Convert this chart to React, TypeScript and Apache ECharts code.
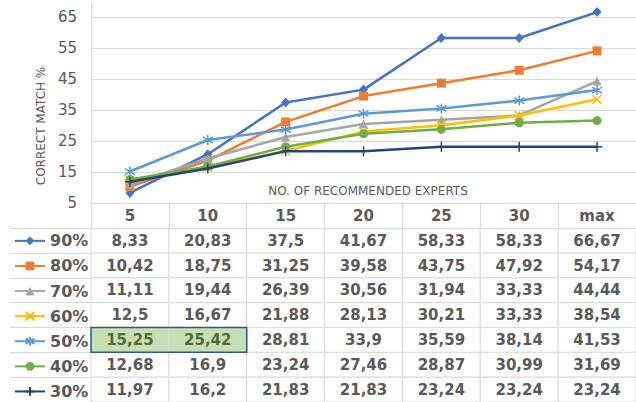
import React, { useEffect, useRef } from 'react';
import * as echarts from 'echarts';

const categories = ['5', '10', '15', '20', '25', '30', 'max'];
const seriesNames = ['90%', '80%', '70%', '60%', '50%', '40%', '30%'];
const s90 = [8.33, 20.83, 37.5, 41.67, 58.33, 58.33, 66.67];
const s80 = [10.42, 18.75, 31.25, 39.58, 43.75, 47.92, 54.17];
const s70 = [11.11, 19.44, 26.39, 30.56, 31.94, 33.33, 44.44];
const s60 = [12.5, 16.67, 21.88, 28.13, 30.21, 33.33, 38.54];
const s50 = [15.25, 25.42, 28.81, 33.9, 35.59, 38.14, 41.53];
const s40 = [12.68, 16.9, 23.24, 27.46, 28.87, 30.99, 31.69];
const s30 = [11.97, 16.2, 21.83, 21.83, 23.24, 23.24, 23.24];
const seriesValues = [s90, s80, s70, s60, s50, s40, s30];
const yMin = 5;
const yMax = 69.5;
const yInterval = 10;
const yTitle = 'CORRECT MATCH %';
const xTitle = 'NO. OF RECOMMENDED EXPERTS';
const highlightRow = '50%';
const highlightCols = ['5', '10'];

const colors = ['#4472C4', '#ED7D31', '#A5A5A5', '#FFC000', '#5B9BD5', '#70AD47', '#264478'];
const symbols = [
  'diamond',
  'rect',
  'triangle',
  'path://M0,0L10,10M10,0L0,10',
  'path://M5,0L5,10M0.8,2L9.2,8M9.2,2L0.8,8',
  'circle',
  'path://M5,0L5,10M0,5L10,5',
];
const symbolSizes: any[] = [[9, 10], 9, 9, 9, 10, 9, 10];
const stroked = [false, false, false, true, true, false, true];

const FONT = '"DejaVu Sans", Verdana, sans-serif';
const TXT = '#595959';
const GRID = '#D9D9D9';

const PX_PER_UNIT = 3.1;
const PLOT_LEFT = 91;
const PLOT_BOTTOM = 203.3;
const PLOT_H = (yMax - yMin) * PX_PER_UNIT;
const PLOT_TOP = PLOT_BOTTOM - PLOT_H;
const HEADER_H = 25;
const ROW_H = 25.1;
const TABLE_LEFT = 10;
const TABLE_TOP = PLOT_BOTTOM + HEADER_H;
const LEGEND_LINE = 16;

const fmt = (v: number) => String(v).replace('.', ',');

export default function App() {
  const ref = useRef<HTMLDivElement>(null);
  useEffect(() => {
    if (!ref.current) return;
    const chart = echarts.init(ref.current, undefined, { renderer: 'svg' });

    const cellData: number[][] = [];
    seriesValues.forEach((vals, r) => vals.forEach((v, c) => cellData.push([c, r, v])));
    const hlRowIdx = seriesNames.indexOf(highlightRow);
    const hlColIdx = highlightCols.map((c) => categories.indexOf(c));

    const nTicks = Math.floor((yMax - yMin) / yInterval) + 1 + ((yMax - yMin) % yInterval ? 1 : 0);
    const splitColors = Array.from({ length: nTicks }, (_, i) =>
      i === nTicks - 1 && (yMax - yMin) % yInterval ? 'rgba(0,0,0,0)' : GRID
    );

    const lineSeries = seriesNames.map((name, i) => ({
      name,
      type: 'line',
      xAxisIndex: 0,
      yAxisIndex: 0,
      data: seriesValues[i],
      symbol: symbols[i],
      symbolSize: symbolSizes[i],
      color: colors[i],
      lineStyle: { color: colors[i], width: 2.5 },
      itemStyle: stroked[i]
        ? { color: colors[i], borderColor: colors[i], borderWidth: 1.5 }
        : { color: colors[i], borderWidth: 0 },
      showAllSymbol: true,
      z: 2 + i,
    }));

    const legends = seriesNames.map((name, i) => ({
      data: [name],
      orient: 'vertical',
      left: 14,
      top: TABLE_TOP + ROW_H * i + ROW_H / 2 - LEGEND_LINE / 2,
      padding: 0,
      itemWidth: 30,
      itemHeight: 11,
      selectedMode: false,
      textStyle: { color: TXT, fontSize: 16, fontWeight: 'bold', fontFamily: FONT, lineHeight: LEGEND_LINE },
    }));

    const option: any = {
      animation: false,
      grid: [
        { left: PLOT_LEFT, right: 0, top: PLOT_TOP, height: PLOT_H },
        { left: PLOT_LEFT, right: 0, top: TABLE_TOP, height: ROW_H * seriesNames.length },
      ],
      xAxis: [
        {
          type: 'category',
          gridIndex: 0,
          data: categories,
          boundaryGap: true,
          axisLine: { show: true, lineStyle: { color: GRID, width: 1 } },
          axisTick: { show: true, length: HEADER_H, lineStyle: { color: GRID, width: 1 } },
          axisLabel: { color: TXT, fontSize: 15, fontWeight: 'bold', fontFamily: FONT, margin: 5 },
          splitLine: { show: false },
        },
        {
          type: 'category',
          gridIndex: 1,
          data: categories,
          show: false,
        },
      ],
      yAxis: [
        {
          type: 'value',
          gridIndex: 0,
          min: yMin,
          max: yMax,
          interval: yInterval,
          axisLine: { show: true, lineStyle: { color: GRID, width: 1 } },
          axisTick: { show: false },
          axisLabel: { color: TXT, fontSize: 15, fontFamily: FONT, margin: 14, showMaxLabel: false },
          splitLine: { show: true, lineStyle: { color: splitColors, width: 1 } },
        },
        {
          type: 'category',
          gridIndex: 1,
          data: seriesNames,
          inverse: true,
          axisLine: { show: true, lineStyle: { color: GRID, width: 1 } },
          axisTick: { show: true, length: PLOT_LEFT - TABLE_LEFT, lineStyle: { color: GRID, width: 1 } },
          axisLabel: { show: false },
          splitLine: { show: false },
        },
        {
          type: 'category',
          gridIndex: 1,
          data: seriesNames,
          inverse: true,
          offset: PLOT_LEFT - TABLE_LEFT,
          axisLine: { show: true, lineStyle: { color: GRID, width: 1 } },
          axisTick: { show: false },
          axisLabel: { show: false },
          splitLine: { show: false },
        },
      ],
      legend: legends,
      graphic: [
        {
          type: 'text',
          x: 41,
          y: 126,
          rotation: Math.PI / 2,
          style: { text: yTitle, align: 'center', verticalAlign: 'middle', fill: TXT, fontSize: 12, fontFamily: FONT },
        },
        {
          type: 'text',
          x: 368,
          y: 191,
          style: { text: xTitle, align: 'center', verticalAlign: 'middle', fill: TXT, fontSize: 12, fontFamily: FONT },
        },
      ],
      series: [
        ...lineSeries,
        {
          type: 'custom',
          xAxisIndex: 1,
          yAxisIndex: 1,
          data: cellData,
          z: 1,
          renderItem: (params: any, api: any) => {
            const ci = api.value(0);
            const ri = api.value(1);
            const v = api.value(2);
            const p = api.coord([ci, ri]);
            const sz = api.size([1, 1]);
            const hl = ri === hlRowIdx && hlColIdx.includes(ci);
            return {
              type: 'group',
              children: [
                {
                  type: 'rect',
                  shape: { x: p[0] - sz[0] / 2, y: p[1] - sz[1] / 2, width: sz[0], height: sz[1] },
                  style: { fill: hl ? '#C6E0B4' : '#FFFFFF', stroke: GRID, lineWidth: 1 },
                },
                {
                  type: 'text',
                  style: {
                    text: fmt(v),
                    x: p[0],
                    y: p[1],
                    align: 'center',
                    verticalAlign: 'middle',
                    fill: hl ? '#56693A' : TXT,
                    fontSize: 15,
                    fontWeight: 'bold',
                    fontFamily: FONT,
                  },
                },
              ],
            };
          },
        },
        {
          type: 'custom',
          xAxisIndex: 1,
          yAxisIndex: 1,
          data: [[Math.min(...hlColIdx), hlRowIdx, Math.max(...hlColIdx)]],
          z: 3,
          encode: { x: 0, y: 1 },
          renderItem: (params: any, api: any) => {
            const c0 = api.value(0);
            const r = api.value(1);
            const c1 = api.value(2);
            const p0 = api.coord([c0, r]);
            const p1 = api.coord([c1, r]);
            const sz = api.size([1, 1]);
            return {
              type: 'rect',
              shape: {
                x: p0[0] - sz[0] / 2,
                y: p0[1] - sz[1] / 2,
                width: p1[0] - p0[0] + sz[0],
                height: sz[1],
              },
              style: { fill: 'none', stroke: '#2F5597', lineWidth: 1.5 },
            };
          },
        },
      ],
    };
    chart.setOption(option);
    return () => chart.dispose();
  }, []);
  return (
    <div
      ref={ref}
      style={{ position: 'fixed', left: 0, top: 0, width: 636, height: 402, background: '#fff' }}
    />
  );
}
